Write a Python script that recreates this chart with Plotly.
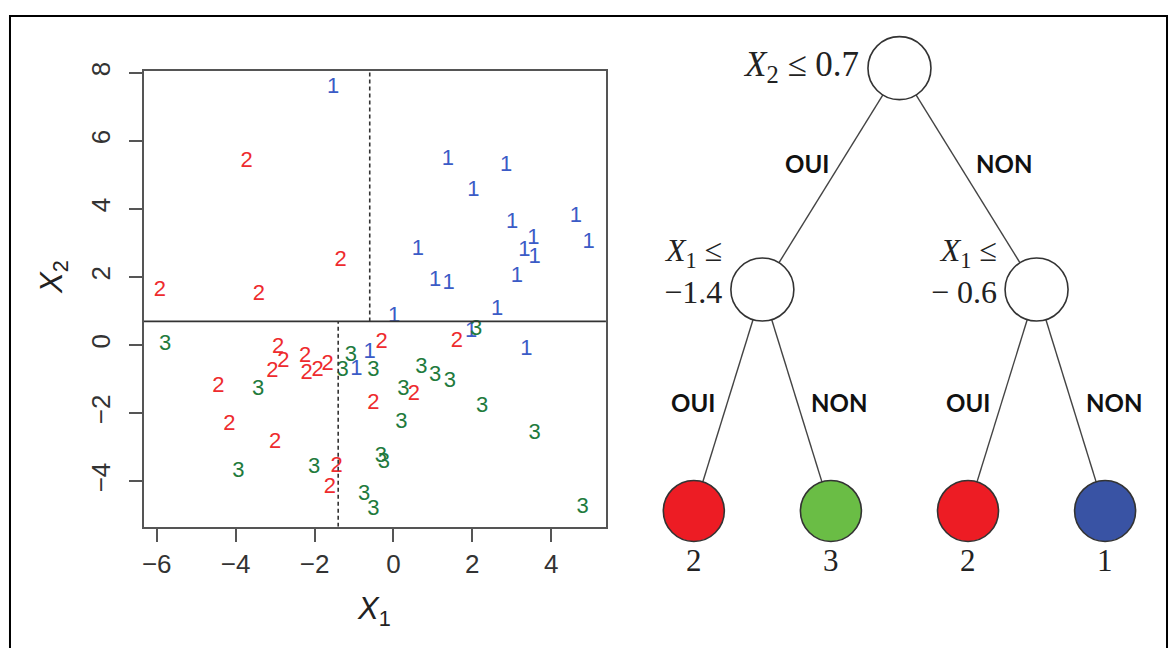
import plotly.graph_objects as go

# ---- scatter data: observations of the three classes ----
class1_x = [-1.53, 1.38, 2.86, 2.03, 3.01, 4.63, 0.62, 3.32, 3.55, 3.58,
            4.95, 1.06, 1.40, 3.13, 2.63, 0.02, 1.97, -0.60, 3.37, -0.94]
class1_y = [7.57, 5.44, 5.28, 4.55, 3.60, 3.77, 2.81, 2.78, 3.12, 2.59,
            3.02, 1.91, 1.80, 2.01, 1.04, 0.85, 0.41, -0.21, -0.12, -0.70]

class2_x = [-3.72, -1.34, -5.92, -3.41, -0.30, 1.61, 0.52, -0.51, -2.92, -2.79,
            -3.07, -2.24, -2.20, -1.92, -1.67, -4.44, -4.16, -3.00, -1.44, -1.61]
class2_y = [5.39, 2.49, 1.62, 1.48, 0.08, 0.12, -1.44, -1.71, -0.07, -0.47,
            -0.77, -0.34, -0.82, -0.74, -0.57, -1.21, -2.34, -2.85, -3.55, -4.17]

class3_x = [2.10, -0.51, 0.71, 1.06, 1.43, 0.25, 2.25, 0.20, 3.58, -0.32,
            -0.24, -0.74, -0.51, 4.80, -5.79, -1.08, -1.29, -3.43, -3.93, -2.01]
class3_y = [0.46, -0.74, -0.65, -0.89, -1.08, -1.30, -1.79, -2.27, -2.58, -3.28,
            -3.43, -4.37, -4.82, -4.78, 0.03, -0.31, -0.74, -1.30, -3.72, -3.59]

class_labels = ["1", "2", "3"]
class_colors = ["#3b5bc6", "#ee2b2e", "#217a3c"]

# split thresholds
split_x2 = 0.7        # root split on X2
split_x1_low = -1.4   # split on X1 where X2 <= 0.7
split_x1_high = -0.6  # split on X1 where X2 > 0.7

x_ticks = [-6, -4, -2, 0, 2, 4]
y_ticks = [-4, -2, 0, 2, 4, 6, 8]
x_range = [-6.33, 5.39]
y_range = [-5.33, 8.05]

# ---- tree description ----
# leaves in left-to-right order with their predicted class
leaf_classes = ["2", "3", "2", "1"]
leaf_fill = ["#ed1c24", "#6abd45", "#ed1c24", "#3953a4"]
node_conditions = ["<i>X</i><sub>2</sub> ≤ 0.7",
                   "<i>X</i><sub>1</sub> ≤<br>−1.4",
                   "<i>X</i><sub>1</sub> ≤<br>− 0.6"]
edge_yes = "OUI"
edge_no = "NON"

W, H = 1173, 648

fig = go.Figure()

series = [(class1_x, class1_y), (class2_x, class2_y), (class3_x, class3_y)]
for (xs, ys), lab, col in zip(series, class_labels, class_colors):
    fig.add_trace(go.Scatter(
        x=xs, y=ys, mode="text", text=[lab] * len(xs),
        textposition="middle center",
        textfont=dict(family="Liberation Sans, Arial", size=22, color=col),
        showlegend=False, hoverinfo="skip", xaxis="x", yaxis="y"))

# partition lines
fig.add_trace(go.Scatter(x=x_range, y=[split_x2, split_x2], mode="lines",
                         line=dict(color="#333333", width=1.6),
                         showlegend=False, hoverinfo="skip"))
fig.add_trace(go.Scatter(x=[split_x1_high, split_x1_high], y=[split_x2, y_range[1]],
                         mode="lines", line=dict(color="#333333", width=1.6, dash="4px,3px"),
                         showlegend=False, hoverinfo="skip"))
fig.add_trace(go.Scatter(x=[split_x1_low, split_x1_low], y=[y_range[0], split_x2],
                         mode="lines", line=dict(color="#333333", width=1.6, dash="4px,3px"),
                         showlegend=False, hoverinfo="skip"))

# ---- tree geometry (tree units: leaves at 0..3, depth 0..2) ----
leaf_pos = [(i, 2) for i in range(4)]
left_node = ((leaf_pos[0][0] + leaf_pos[1][0]) / 2, 1)
right_node = ((leaf_pos[2][0] + leaf_pos[3][0]) / 2, 1)
root = ((left_node[0] + right_node[0]) / 2, 0)
internal = [root, left_node, right_node]
edges = [(root, left_node), (root, right_node),
         (left_node, leaf_pos[0]), (left_node, leaf_pos[1]),
         (right_node, leaf_pos[2]), (right_node, leaf_pos[3])]

for a, b in edges:
    fig.add_trace(go.Scatter(x=[a[0], b[0]], y=[a[1], b[1]], mode="lines",
                             line=dict(color="#444444", width=1.4),
                             showlegend=False, hoverinfo="skip",
                             xaxis="x2", yaxis="y2"))

fig.add_trace(go.Scatter(x=[p[0] for p in internal], y=[p[1] for p in internal],
                         mode="markers",
                         marker=dict(size=63, color="white",
                                     line=dict(color="#333333", width=1.6)),
                         showlegend=False, hoverinfo="skip",
                         xaxis="x2", yaxis="y2"))
fig.add_trace(go.Scatter(x=[p[0] for p in leaf_pos], y=[p[1] for p in leaf_pos],
                         mode="markers",
                         marker=dict(size=61, color=leaf_fill,
                                     line=dict(color="#333333", width=1.6)),
                         showlegend=False, hoverinfo="skip",
                         xaxis="x2", yaxis="y2"))

# tree axis mapping: 137.3 px per leaf step, 224.5 px per depth level
px_x, px_y = 137.33, 224.5
tree_left_px = 620
leaf0_px, root_py = 693, 60
x2_range = [(tree_left_px - leaf0_px) / px_x, (W - leaf0_px) / px_x]
y2_range = [(H - root_py) / px_y, -root_py / px_y]

annotations = []
serif = "Liberation Serif, Times New Roman, serif"

# split conditions beside internal nodes
annotations.append(dict(x=root[0], y=root[1], xref="x2", yref="y2",
                        text=node_conditions[0], showarrow=False,
                        xanchor="right", yanchor="middle", xshift=-38, yshift=2,
                        font=dict(family=serif, size=35, color="#222222")))
for node, cond in zip([left_node, right_node], node_conditions[1:]):
    annotations.append(dict(x=node[0], y=node[1], xref="x2", yref="y2",
                            text=cond, showarrow=False, align="right",
                            xanchor="right", yanchor="middle", xshift=-38, yshift=19,
                            font=dict(family=serif, size=32, color="#222222")))

# leaf class labels
for (lx, ly), lab in zip(leaf_pos, leaf_classes):
    annotations.append(dict(x=lx, y=ly, xref="x2", yref="y2", text=lab,
                            showarrow=False, yshift=-50,
                            font=dict(family=serif, size=31, color="#222222")))

# yes / no labels along each edge
edge_t = [0.43, 0.43, 0.51, 0.51, 0.51, 0.51]
for k, ((a, b), t) in enumerate(zip(edges, edge_t)):
    ex = a[0] + (b[0] - a[0]) * t
    ey = a[1] + (b[1] - a[1]) * t
    is_yes = (k % 2 == 0)
    annotations.append(dict(
        x=ex, y=ey, xref="x2", yref="y2",
        text="<b>%s</b>" % (edge_yes if is_yes else edge_no), showarrow=False,
        xanchor="right" if is_yes else "left",
        xshift=-10 if is_yes else (16 if k < 2 else 12),
        font=dict(family="Lato, Open Sans, sans-serif", size=24, color="#111111")))

# scatter axis titles
annotations.append(dict(x=-0.5, y=1 - 610 / H, xref="x", yref="paper",
                        text="<i>X</i><sub>1</sub>", showarrow=False,
                        yanchor="middle",
                        font=dict(family="Liberation Sans, Arial", size=31, color="#222222")))
annotations.append(dict(x=52 / W, y=2.0, xref="paper", yref="y",
                        text="<i>X</i><sub>2</sub>", showarrow=False,
                        textangle=-90, xanchor="center", yanchor="middle",
                        font=dict(family="Liberation Sans, Arial", size=31, color="#222222")))

axis_font = dict(family="Liberation Sans, Arial", size=26, color="#333333")
fig.update_layout(
    width=W, height=H, margin=dict(l=0, r=0, t=0, b=0),
    paper_bgcolor="white", plot_bgcolor="rgba(0,0,0,0)",
    xaxis=dict(domain=[142 / W, 605 / W], range=x_range, tickvals=x_ticks,
               showgrid=False, zeroline=False, showline=True, mirror=True,
               linecolor="#555555", linewidth=1.6, ticks="outside", ticklen=13,
               tickwidth=1.6, tickcolor="#555555", tickfont=axis_font),
    yaxis=dict(domain=[1 - 525 / H, 1 - 63 / H], range=y_range, tickvals=y_ticks,
               showgrid=False, zeroline=False, showline=True, mirror=True,
               linecolor="#555555", linewidth=1.6, ticks="outside", ticklen=13,
               tickwidth=1.6, tickcolor="#555555", tickfont=axis_font, tickangle=-90,
               ticklabelstandoff=9),
    xaxis2=dict(domain=[tree_left_px / W, 1], range=x2_range, visible=False, anchor="y2"),
    yaxis2=dict(domain=[0, 1], range=y2_range, visible=False, anchor="x2"),
    annotations=annotations,
    shapes=[dict(type="rect", xref="paper", yref="paper",
                 x0=8 / W, x1=1167 / W, y0=1 - 720 / H, y1=1 - 7 / H,
                 line=dict(color="black", width=2), fillcolor="rgba(0,0,0,0)")],
)

fig.write_html("out.html")
